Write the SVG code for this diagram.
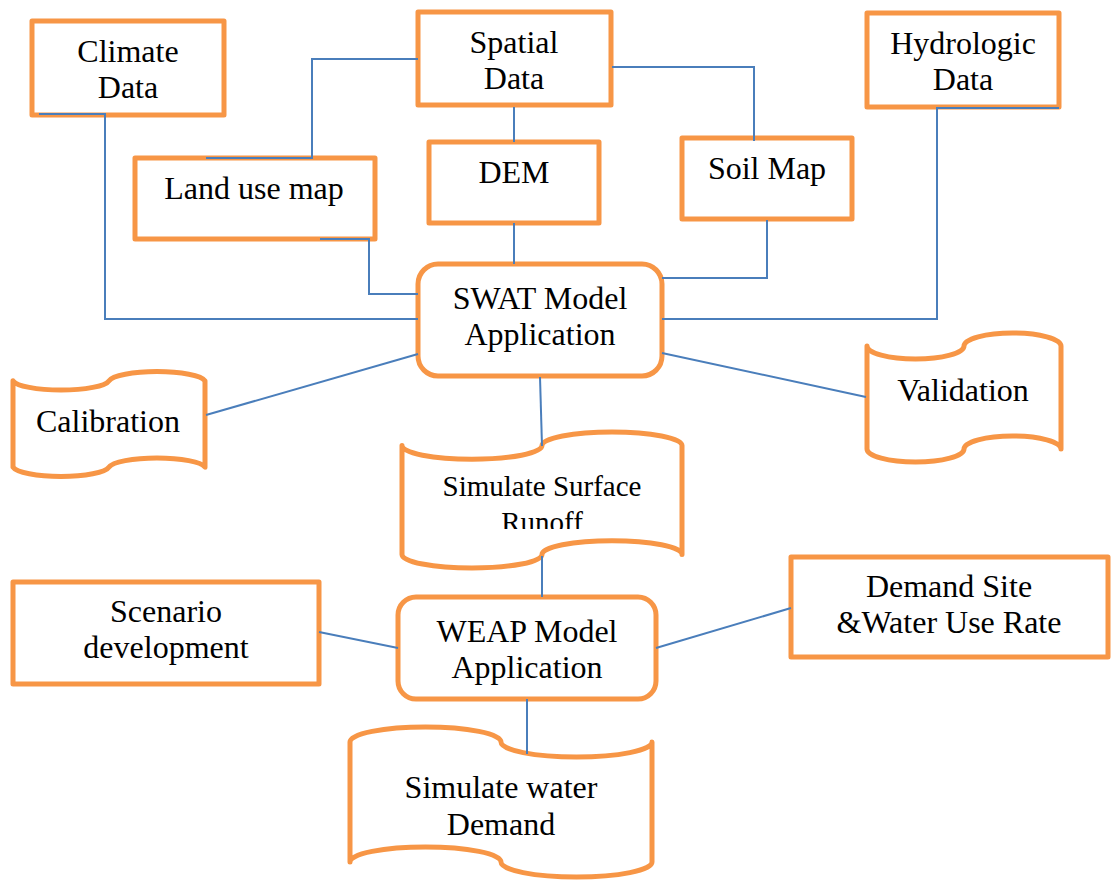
<svg xmlns="http://www.w3.org/2000/svg" width="1112" height="882" viewBox="0 0 1112 882">
<style>
.n{fill:#fff;stroke:#F79646;stroke-width:5;stroke-linejoin:round}
.c{fill:none;stroke:#4A7EBB;stroke-width:2}
text{font-family:"Liberation Serif","Times New Roman",serif;font-size:32px;fill:#000;text-anchor:middle}
.s{font-size:29px}
</style>
<defs>
<clipPath id="clipRun"><rect x="401" y="432" width="282" height="97"/></clipPath>
</defs>
<rect width="1112" height="882" fill="#fff"/>
<g id="climate"><rect class="n" x="32" y="21" width="192" height="94"/><text x="128" y="62">Climate</text><text x="128" y="98">Data</text></g>
<g id="spatial"><rect class="n" x="418" y="12" width="193" height="93"/><text x="514" y="53">Spatial</text><text x="514" y="89">Data</text></g>
<g id="hydrologic"><rect class="n" x="867" y="13" width="192" height="94"/><text x="963" y="54">Hydrologic</text><text x="963" y="90">Data</text></g>
<g id="landuse"><rect class="n" x="135" y="158" width="240" height="81"/><text x="254" y="199">Land use map</text></g>
<g id="dem"><rect class="n" x="429" y="142" width="170" height="81"/><text x="514" y="183">DEM</text></g>
<g id="soil"><rect class="n" x="682" y="138" width="170" height="81"/><text x="767" y="179">Soil Map</text></g>
<g id="swat"><rect class="n" x="418" y="264" width="244" height="112" rx="20"/><text x="540" y="309">SWAT Model</text><text x="540" y="345">Application</text></g>
<g id="calibration"><path class="n" d="M13,380.8 A48.5 10.8 0 0 0 109,380.8 A48.5 10.8 0 0 1 205,380.8 L205,467.2 A48.5 10.8 0 0 0 109,467.2 A48.5 10.8 0 0 1 13,467.2 Z"/><text x="108" y="432">Calibration</text></g>
<g id="validation"><path class="n" d="M867,346 A48.5 13 0 0 0 964,346 A48.5 13 0 0 1 1061,346 L1061,449 A48.5 13 0 0 0 964,449 A48.5 13 0 0 1 867,449 Z"/><text x="963" y="401">Validation</text></g>
<g id="runoff"><path class="n" d="M402,445.6 A70 13.6 0 0 0 542,445.6 A70 13.6 0 0 1 682,445.6 L682,554.4 A70 13.6 0 0 0 542,554.4 A70 13.6 0 0 1 402,554.4 Z"/><text class="s" x="542" y="496">Simulate Surface</text><g clip-path="url(#clipRun)"><text class="s" x="542" y="532">Runoff</text></g></g>
<g id="scenario"><rect class="n" x="13" y="582" width="306" height="102"/><text x="166" y="622">Scenario</text><text x="166" y="658">development</text></g>
<g id="weap"><rect class="n" x="398" y="597" width="258" height="102" rx="18"/><text x="527" y="642">WEAP Model</text><text x="527" y="678">Application</text></g>
<g id="demand"><rect class="n" x="791" y="557" width="317" height="100"/><text x="949" y="597">Demand Site</text><text x="949" y="633">&amp;Water Use Rate</text></g>
<g id="water"><path class="n" d="M350,742 A75.5 15 0 0 1 501,742 A75.5 15 0 0 0 652,742 L652,862 A75.5 15 0 0 1 501,862 A75.5 15 0 0 0 350,862 Z"/><text x="501" y="798">Simulate water</text><text x="501" y="835">Demand</text></g>
<g id="connectors">
<path class="c" d="M39,114 H105 V319 H418"/>
<path class="c" d="M418,59 H312 V158 H206"/>
<path class="c" d="M514,107 V142"/>
<path class="c" d="M612,67 H754 V141"/>
<path class="c" d="M320,239 H369 V294 H418"/>
<path class="c" d="M514,223 V264"/>
<path class="c" d="M767,220 V278 H662"/>
<path class="c" d="M1059,108 H937 V319 H662"/>
<path class="c" d="M418,354 L206,415"/>
<path class="c" d="M662,353 L866,397"/>
<path class="c" d="M540,377 L542,446"/>
<path class="c" d="M542,556 V597"/>
<path class="c" d="M398,648 L319,632"/>
<path class="c" d="M656,648 L791,608"/>
<path class="c" d="M527,699 V754"/>
</g>
</svg>
